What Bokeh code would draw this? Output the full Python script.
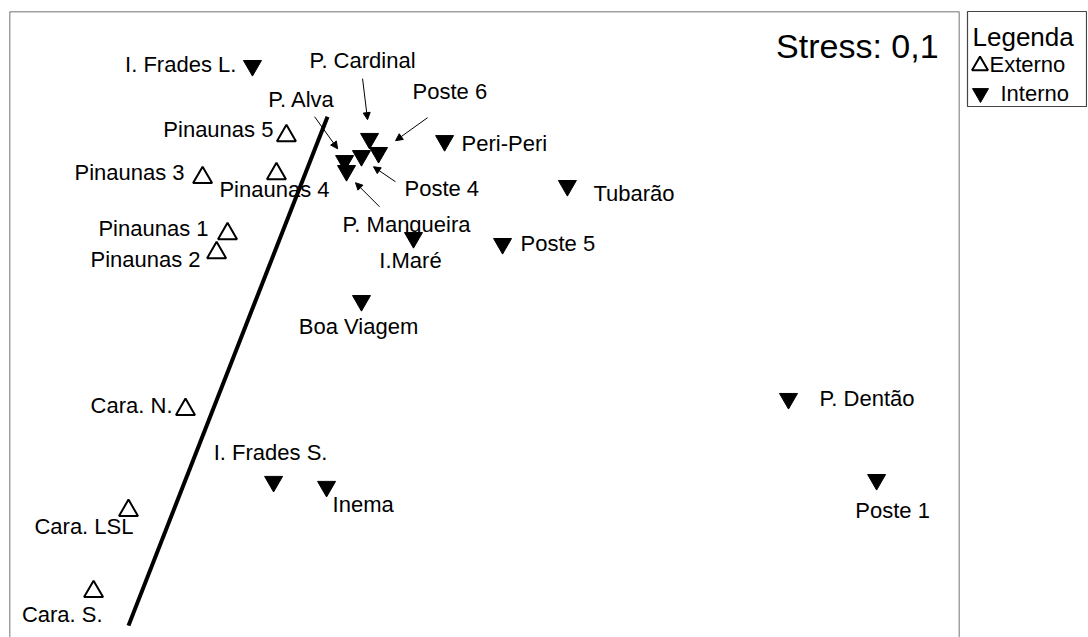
from bokeh.plotting import figure
from bokeh.models import ColumnDataSource, Range1d, Arrow, NormalHead, Label, Span
from bokeh.layouts import row
from bokeh.embed import file_html
from bokeh.resources import INLINE
from bokeh.core.properties import value

# ---------------- data (NMDS coordinates) ----------------
ext_names = ["Pinaunas 5", "Pinaunas 3", "Pinaunas 4", "Pinaunas 1", "Pinaunas 2",
             "Cara. N.", "Cara. LSL", "Cara. S."]
ext_x = [-0.434, -0.787, -0.476, -0.682, -0.728, -0.859, -1.099, -1.246]
ext_y = [0.778, 0.602, 0.618, 0.366, 0.286, -0.374, -0.799, -1.140]

int_names = ["I.  Frades L.", "P. Cardinal", "Poste 6", "Poste 4", "P. Alva",
             "P. Mangueira", "Peri-Peri", "Tubarão", "I.Maré", "Poste 5",
             "Boa Viagem", "P. Dentão", "Poste 1", "I. Frades S.", "Inema"]
int_x = [-0.577, -0.084, -0.046, -0.118, -0.189, -0.181, 0.232, 0.749, 0.101,
         0.476, -0.118, 1.680, 2.051, -0.488, -0.265]
int_y = [1.073, 0.766, 0.707, 0.694, 0.673, 0.631, 0.757, 0.568, 0.349, 0.324,
         0.084, -0.328, -0.669, -0.677, -0.698]

line_x = [-0.261, -1.099]
line_y = [0.858, -1.283]

stress_text = "Stress: 0,1"
legend_title = "Legenda"
legend_labels = ["Externo", "Interno"]

# ---------------- styling: label placement (align, dx px, dy px downwards) ----------------
label_style = {
    "Pinaunas 5": ("right", -13, -6),
    "Pinaunas 3": ("right", -18, -5),
    "Pinaunas 4": ("center", -2, 16),
    "Pinaunas 1": ("right", -19, -5),
    "Pinaunas 2": ("right", -16, 7),
    "Cara. N.": ("right", -13, -4),
    "Cara. LSL": ("right", 5, 16),
    "Cara. S.": ("right", 9, 23),
    "I.  Frades L.": ("right", -10, -1),
    "P. Cardinal": ("center", -7, -78),
    "Poste 6": ("left", 34, -61),
    "Poste 4": ("left", 43, 33),
    "P. Alva": ("center", -43, -61),
    "P. Mangueira": ("left", -4, 54),
    "Peri-Peri": ("left", 17, 3),
    "Tubarão": ("left", 26, 8),
    "I.Maré": ("center", -3, 23),
    "Poste 5": ("left", 18, 0),
    "Boa Viagem": ("center", -3, 26),
    "P. Dentão": ("left", 31, 0),
    "Poste 1": ("center", 16, 31),
    "I. Frades S.": ("center", -3, -29),
    "Inema": ("left", 6, 18),
}
# arrows: (start dx, start dy, end dx, end dy) in px relative to the pointed marker
arrow_style = {
    "P. Cardinal": (-7, -60, -2, -19),
    "Poste 6": (49, -35, 17, -12),
    "P. Alva": (-30, -44, -7, -12),
    "Poste 4": (34, 26, 12, 11),
    "P. Mangueira": (33, 36, 9, 12),
}

FONT = "Liberation Sans"
XR = (-1.6, 2.4)
YR = (-1.333, 1.301)
W, H = 960, 637
MB_L, MB_R, MB_T = 9, 1, 11
PPU_X = (W - MB_L - MB_R) / (XR[1] - XR[0])
PPU_Y = (H - MB_T) / (YR[1] - YR[0])

p = figure(width=W, height=H, output_backend="svg", toolbar_location=None,
           x_range=Range1d(*XR), y_range=Range1d(*YR),
           x_axis_type=None, y_axis_type=None,
           min_border_left=MB_L, min_border_right=MB_R, min_border_top=MB_T,
           min_border_bottom=0)
p.grid.visible = False
p.outline_line_color = None
p.background_fill_color = "white"
p.border_fill_color = "white"

# frame: left, right and top edges (the bottom edge lies outside the picture)
for loc, dim in ((XR[0], "height"), (XR[1], "height"), (YR[1], "width")):
    p.add_layout(Span(location=loc, dimension=dim, line_color="#444444",
                      line_width=1.5))

# dividing line
p.line(line_x, line_y, line_color="black", line_width=4)

# markers
p.scatter(ext_x, ext_y, marker="triangle", size=19, fill_color=None,
          line_color="black", line_width=2)
p.scatter(int_x, int_y, marker="inverted_triangle", size=18, fill_color="black",
          line_color="black", line_width=1)

# labels
all_names = ext_names + int_names
all_x = ext_x + int_x
all_y = ext_y + int_y
for align in ("left", "center", "right"):
    d = dict(x=[], y=[], t=[], dx=[], dy=[])
    for n, x, y in zip(all_names, all_x, all_y):
        a, dx, dy = label_style[n]
        if a == align:
            d["x"].append(x); d["y"].append(y); d["t"].append(n)
            d["dx"].append(dx); d["dy"].append(dy)
    p.text(x="x", y="y", text="t", x_offset="dx", y_offset="dy",
           source=ColumnDataSource(d), text_align=align, text_baseline="middle",
           text_font=value(FONT), text_font_size="22px", text_color="black")

# arrows
ad = dict(xs=[], ys=[], xe=[], ye=[])
for n, (sx, sy, ex, ey) in arrow_style.items():
    i = int_names.index(n)
    ad["xs"].append(int_x[i] + sx / PPU_X)
    ad["ys"].append(int_y[i] - sy / PPU_Y)
    ad["xe"].append(int_x[i] + ex / PPU_X)
    ad["ye"].append(int_y[i] - ey / PPU_Y)
p.add_layout(Arrow(source=ColumnDataSource(ad), x_start="xs", y_start="ys",
                   x_end="xe", y_end="ye", line_color="black", line_width=1,
                   end=NormalHead(size=7, fill_color="black", line_color="black",
                                  line_width=1)))

# stress annotation
p.add_layout(Label(x=2.312, y=1.157, text=stress_text, text_align="right",
                   text_baseline="middle", text_font=FONT, text_font_size="34px",
                   text_color="black"))

# ---------------- legend box as its own small figure ----------------
lg = figure(width=127, height=107, output_backend="svg", toolbar_location=None,
            x_range=Range1d(0, 120), y_range=Range1d(101, 0),
            x_axis_type=None, y_axis_type=None,
            min_border_left=7, min_border_right=0, min_border_top=6,
            min_border_bottom=0)
lg.grid.visible = False
lg.outline_line_color = "#444444"
lg.outline_line_width = 1.2
lg.text(x=[5], y=[27], text=[legend_title], text_baseline="middle",
        text_font=value(FONT), text_font_size="26px", text_color="black")
lg.scatter([12.5], [57], marker="triangle", size=16, fill_color=None,
           line_color="black", line_width=2)
lg.scatter([13], [86], marker="inverted_triangle", size=16, fill_color="black",
           line_color="black")
lg.text(x=[22, 33], y=[56, 86], text=legend_labels, text_baseline="middle",
        text_font=value(FONT), text_font_size="22px", text_color="black")

layout = row(p, lg)
open("out.html", "w").write(file_html(layout, INLINE))
